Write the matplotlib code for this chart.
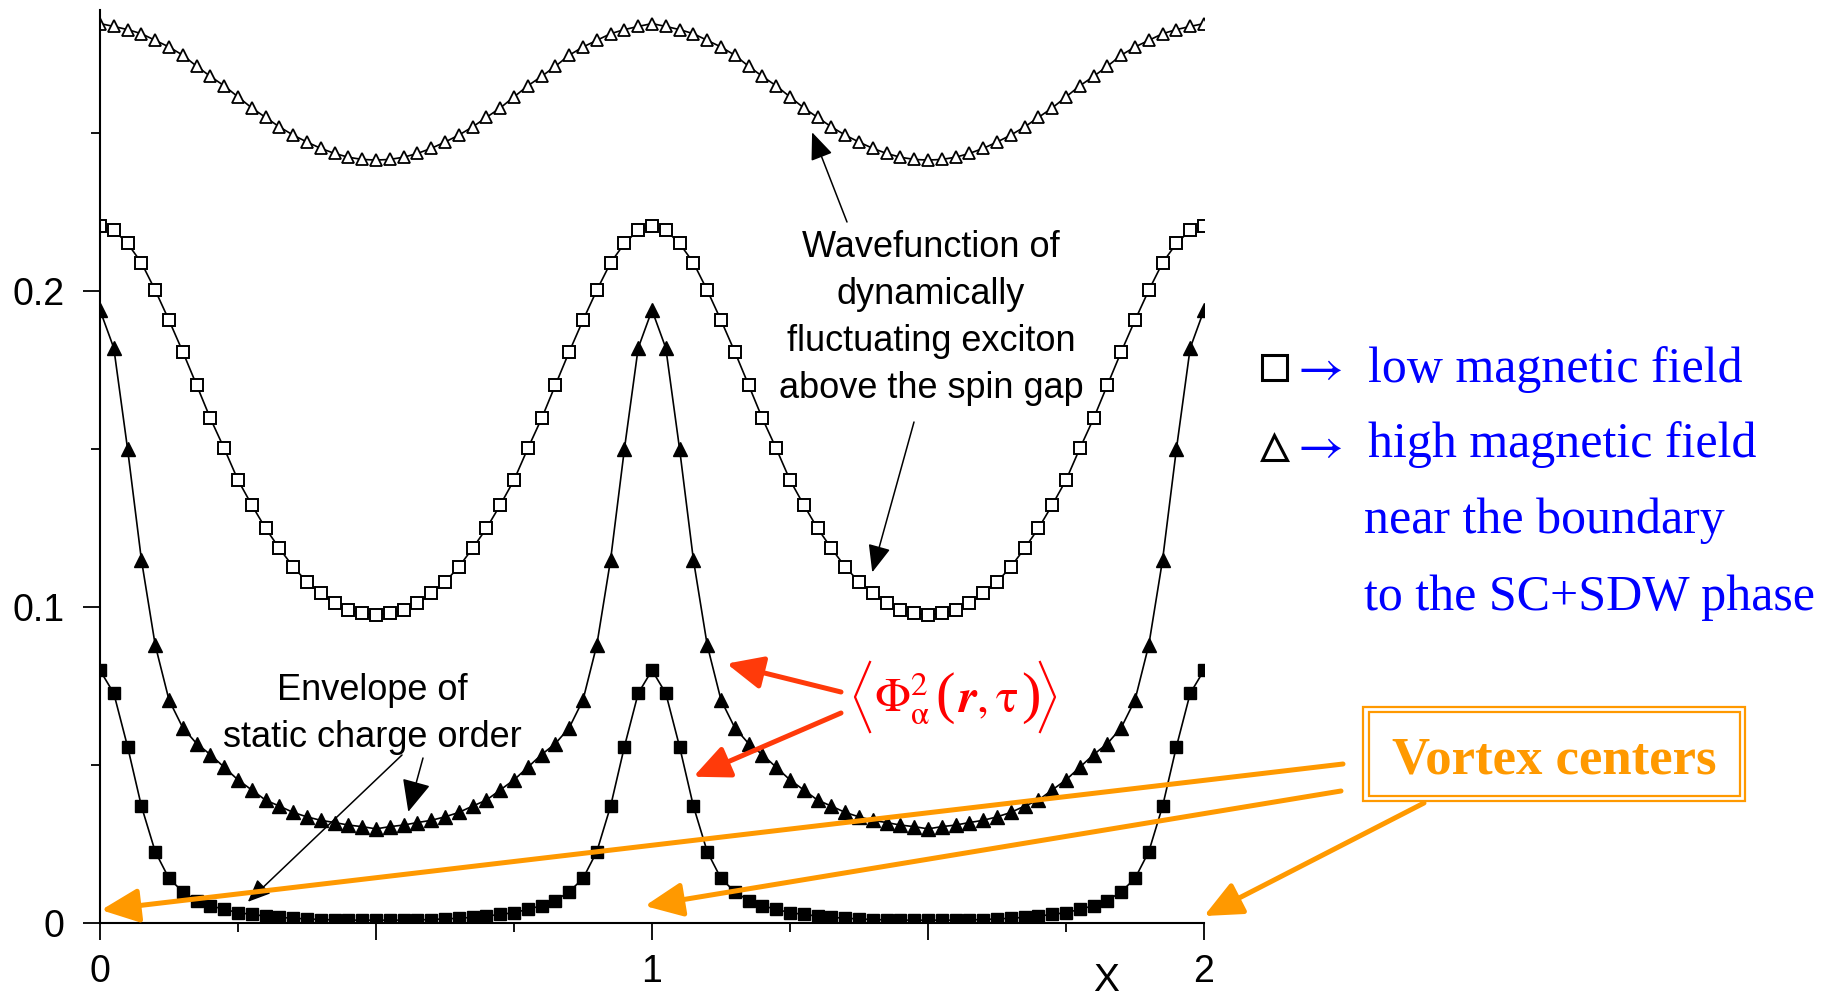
import numpy as np
import matplotlib
matplotlib.use('Agg')
import matplotlib.pyplot as plt
from matplotlib.lines import Line2D
from matplotlib.patches import Rectangle

plt.rcParams['mathtext.fontset'] = 'stix'

# half a period (x = 0 ... 0.5, step 0.025); every curve is symmetric about
# x = 0.5 and repeats with period 1
x_half = np.linspace(0, 0.5, 21)
high_field_open = [0.2847, 0.2838, 0.2828, 0.2815, 0.2794, 0.2773, 0.2747, 0.2712, 0.2680, 0.2650, 0.2615,
                   0.2580, 0.2550, 0.2520, 0.2494, 0.2472, 0.2452, 0.2436, 0.2424, 0.2417, 0.2415]
low_field_open = [0.2205, 0.2193, 0.2151, 0.2090, 0.2003, 0.1908, 0.1808, 0.1703, 0.1597, 0.1502, 0.1402,
                  0.1323, 0.1249, 0.1186, 0.1127, 0.1080, 0.1043, 0.1012, 0.0991, 0.0980, 0.0975]
high_field_filled = [0.1940, 0.1820, 0.1500, 0.1150, 0.0880, 0.0706, 0.0618, 0.0568, 0.0533, 0.0493, 0.0453,
                     0.0421, 0.0389, 0.0370, 0.0350, 0.0336, 0.0325, 0.0318, 0.0310, 0.0305, 0.0298]
low_field_filled = [0.0800, 0.0727, 0.0558, 0.0370, 0.0226, 0.0141, 0.0099, 0.0071, 0.0055, 0.0043, 0.0033,
                    0.0027, 0.0022, 0.0018, 0.0015, 0.0013, 0.0011, 0.0010, 0.0009, 0.0009, 0.0009]

x_ticks = [0, 0.5, 1, 1.5, 2]
x_labels = ['0', '', '1', '', '2']
y_ticks = [0, 0.1, 0.2]
y_labels = ['0', '0.1', '0.2']

wave_lines = ['Wavefunction of', 'dynamically', 'fluctuating exciton', 'above the spin gap']
envelope_lines = ['Envelope of', 'static charge order']
legend_lines = ['low magnetic field', 'high magnetic field', 'near the boundary', 'to the SC+SDW phase']


def full_period(half):
    one = list(half) + list(half[-2::-1])
    return np.array(one + one[1:])


x = np.linspace(0, 2, 4 * (len(x_half) - 1) + 1)

W, H = 1843, 1000
ORANGE = '#ff9900'
RED = '#ff0000'
ARROW_RED = '#ff3a0a'
BLUE = '#0000ff'
SANS = 'Liberation Sans'
SERIF = 'Liberation Serif'

fig = plt.figure(figsize=(W / 100, H / 100), dpi=100)
ax = fig.add_axes([100 / W, 77 / H, 1104 / W, 913 / H])


def fxy(px, py):
    return px / W, 1 - py / H


line_kw = dict(color='black', lw=1.2, mec='black')
ax.plot(x, full_period(high_field_open), marker='^', ms=9, mfc='white', mew=1.3, **line_kw)
ax.plot(x, full_period(low_field_open), marker='s', ms=8, mfc='white', mew=1.4, **line_kw)
ax.plot(x, full_period(high_field_filled), marker='^', ms=9.5, mfc='black', mew=1.0, **line_kw)
ax.plot(x, full_period(low_field_filled), marker='s', ms=8.5, mfc='black', mew=1.0, **line_kw)

ax.set_xlim(0, 2)
ax.set_ylim(0, 0.289)
for side in ('top', 'right'):
    ax.spines[side].set_visible(False)
for side in ('left', 'bottom'):
    ax.spines[side].set_linewidth(1.5)

ax.set_xticks(x_ticks, labels=x_labels)
ax.set_xticks([0.25, 0.75, 1.25, 1.75], minor=True)
ax.set_yticks(y_ticks, labels=y_labels)
ax.set_yticks([0.05, 0.15, 0.25], minor=True)
ax.tick_params(which='major', direction='out', length=12.5, width=1.3, labelsize=27)
ax.tick_params(which='minor', direction='out', length=6.5, width=1.3)
ax.tick_params(axis='y', pad=13)
ax.tick_params(axis='x', pad=10)
for lab in ax.get_xticklabels() + ax.get_yticklabels():
    lab.set_family(SANS)

ax.set_xlabel('X', fontsize=28, family=SANS, va='top')
ax.xaxis.set_label_coords(1006 / 1104, -40 / 913)

# black annotations
for i, s in enumerate(wave_lines):
    fig.text(*fxy(931, 257 + 47 * i), s, ha='center', va='baseline', fontsize=26, family=SANS)
for i, s in enumerate(envelope_lines):
    fig.text(*fxy(372, 700 + 47 * i), s, ha='center', va='baseline', fontsize=26, family=SANS)


def arrow(tip, tail_px, color, lw, hl, hw, ms=10):
    ax.annotate('', xy=tip, xycoords='data', xytext=(tail_px[0], H - tail_px[1]),
                textcoords='figure pixels', annotation_clip=False,
                arrowprops=dict(arrowstyle=f'-|>,head_length={hl},head_width={hw}',
                                color=color, lw=lw, mutation_scale=ms, shrinkA=0, shrinkB=0))


arrow((1.29, 0.2503), (847, 222), 'black', 1.1, 1.7, 0.7)
arrow((1.399, 0.111), (914, 422), 'black', 1.1, 1.7, 0.7)
arrow((0.5585, 0.0352), (423, 758), 'black', 1.1, 2.0, 0.9)
arrow((0.2678, 0.0067), (402, 755), 'black', 1.1, 1.4, 0.6)


# red annotation: < Phi_alpha^2 ( r, tau ) >, assembled from pieces so the
# angle brackets and parentheses can be taller than the symbols
def fig_line(xs, ys, **kw):
    fig.add_artist(Line2D([px / W for px in xs], [1 - py / H for py in ys],
                          transform=fig.transFigure, **kw))


fig_line([870, 855, 870], [662, 697, 732], color=RED, lw=1.6)
fig_line([1040, 1055, 1040], [662, 697, 732], color=RED, lw=1.6)
fig.text(*fxy(874, 712), r'$\Phi_{\mathrm{\alpha}}^{2}$', ha='left', va='baseline', fontsize=34, color=RED)
fig.text(*fxy(945, 698), '(', ha='center', va='center', fontsize=42, family=SERIF, color=RED)
fig.text(*fxy(957, 712), r'$\boldsymbol{r},\mathrm{\tau}$', ha='left', va='baseline', fontsize=34, color=RED)
fig.text(*fxy(1031, 698), ')', ha='center', va='center', fontsize=42, family=SERIF, color=RED)
arrow((1.1352, 0.0821), (841, 692), ARROW_RED, 3.6, 1.1, 0.5, ms=20)
arrow((1.075, 0.0463), (841, 713), ARROW_RED, 3.6, 1.1, 0.5, ms=20)

# vortex centers
arrow((0.002, 0.0041), (1343, 764), ORANGE, 3.6, 1.15, 0.52, ms=20)
arrow((0.987, 0.0054), (1341, 791), ORANGE, 3.6, 1.15, 0.52, ms=20)
arrow((2.0, 0.0022), (1424, 803), ORANGE, 3.6, 1.15, 0.52, ms=20)
for (x0, y0, x1, y1) in [(1363, 707, 1745, 801), (1369, 712, 1740, 796)]:
    fig.add_artist(Rectangle(fxy(x0, y1), (x1 - x0) / W, (y1 - y0) / H, fill=False,
                             edgecolor=ORANGE, lw=1.6, transform=fig.transFigure))
fig.text(*fxy(1554, 773), 'Vortex centers', ha='center', va='baseline', fontsize=38,
         fontweight='bold', family=SERIF, color=ORANGE)

# legend in blue
fig.add_artist(Line2D([1273.5 / W], [1 - 367 / H], marker='s', ms=18, mfc='white', mec='black', mew=2.2,
                      transform=fig.transFigure))
fig.add_artist(Line2D([1273.5 / W], [1 - 447 / H], marker='^', ms=18, mfc='white', mec='black', mew=2.2,
                      transform=fig.transFigure))
for py in (368, 446):
    fig.text(*fxy(1290, py), r'$\rightarrow$', ha='left', va='center', fontsize=36, color=BLUE)
for s, (px, py) in zip(legend_lines, [(1368, 382), (1368, 457), (1364, 533), (1364, 610)]):
    fig.text(*fxy(px, py), s, ha='left', va='baseline', fontsize=36, family=SERIF, color=BLUE)

fig.savefig('out.png', dpi=100)
